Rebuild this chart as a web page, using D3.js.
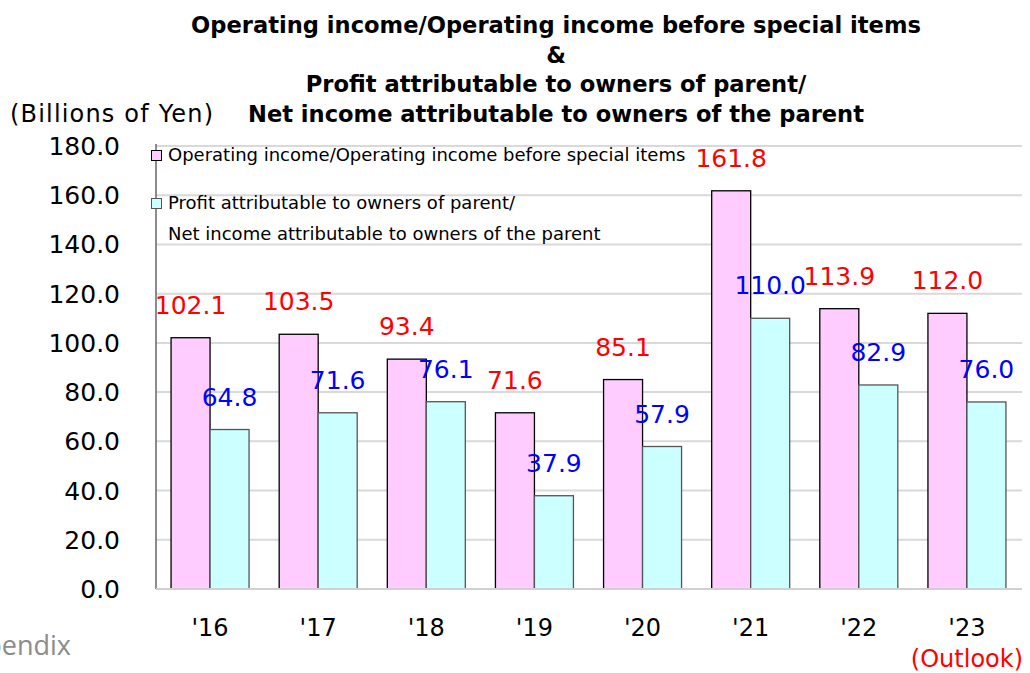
<!DOCTYPE html>
<meta charset="utf-8">
<style>
body { margin: 0; background: #fff; }
svg text { font-family: "DejaVu Sans", Verdana, sans-serif; }
.title { font-weight: bold; font-size: 22.6px; }
.grid line { stroke: #d9d9d9; stroke-width: 2; }
</style>
<script src="https://cdn.jsdelivr.net/npm/d3@7"></script>
<body>
<script>

var years = ["'16", "'17", "'18", "'19", "'20", "'21", "'22", "'23"];
var opIncome = [102.1, 103.5, 93.4, 71.6, 85.1, 161.8, 113.9, 112.0];
var netIncome = [64.8, 71.6, 76.1, 37.9, 57.9, 110.0, 82.9, 76.0];
var yTicks = [0, 20, 40, 60, 80, 100, 120, 140, 160, 180];
var seriesNames = ["Operating income/Operating income before special items",
                   "Profit attributable to owners of parent/",
                   "Net income attributable to owners of the parent"];

var W = 1030, H = 673;
var plotL = 156, plotR = 1021, plotT = 146, plotB = 589;

var svg = d3.select("body").append("svg")
    .attr("width", W)
    .attr("height", H);

var x = d3.scaleBand().domain(years).range([plotL, plotR]).paddingInner(0).paddingOuter(0);
var y = d3.scaleLinear().domain([0, 180]).range([plotB, plotT]);

// gridlines
svg.append("g").attr("class", "grid")
  .selectAll("line")
  .data(yTicks.slice(1))
  .enter().append("line")
    .attr("x1", plotL).attr("x2", plotR + 1)
    .attr("y1", function(d) { return y(d); })
    .attr("y2", function(d) { return y(d); });

// y axis labels
svg.append("g")
  .selectAll("text")
  .data(yTicks)
  .enter().append("text")
    .attr("x", 120)
    .attr("y", function(d) { return y(d); })
    .attr("dy", "0.36em")
    .attr("text-anchor", "end")
    .style("font-size", "25px")
    .text(function(d) { return d.toFixed(1); });

var bw = 39;
var groups = svg.append("g").selectAll("g")
  .data(years)
  .enter().append("g");

groups.append("rect")
    .attr("x", function(d) { return x(d) + x.bandwidth() / 2 - bw; })
    .attr("y", function(d, i) { return y(opIncome[i]); })
    .attr("width", bw)
    .attr("height", function(d, i) { return plotB - y(opIncome[i]); })
    .attr("fill", "#ffccff")
    .attr("stroke", "#000")
    .attr("stroke-width", 1.3);

groups.append("rect")
    .attr("x", function(d) { return x(d) + x.bandwidth() / 2; })
    .attr("y", function(d, i) { return y(netIncome[i]); })
    .attr("width", bw)
    .attr("height", function(d, i) { return plotB - y(netIncome[i]); })
    .attr("fill", "#ccffff")
    .attr("stroke", "#555")
    .attr("stroke-width", 1.3);

// axis lines
svg.append("line")
    .attr("x1", plotL).attr("x2", plotL)
    .attr("y1", plotT - 2).attr("y2", plotB)
    .attr("stroke", "#666").attr("stroke-width", 1.5);
svg.append("line")
    .attr("x1", plotL).attr("x2", plotR + 1)
    .attr("y1", plotB).attr("y2", plotB)
    .attr("stroke", "#d0d0d0").attr("stroke-width", 2);

// value labels
groups.append("text")
    .attr("x", function(d) { return x(d) + x.bandwidth() / 2 - bw / 2; })
    .attr("y", function(d, i) { return y(opIncome[i]) - 24; })
    .attr("text-anchor", "middle")
    .attr("fill", "#ff0000")
    .style("font-size", "25px")
    .text(function(d, i) { return opIncome[i].toFixed(1); });

groups.append("text")
    .attr("x", function(d) { return x(d) + x.bandwidth() / 2 + bw / 2; })
    .attr("y", function(d, i) { return y(netIncome[i]) - 24; })
    .attr("text-anchor", "middle")
    .attr("fill", "#0000ff")
    .style("font-size", "25px")
    .text(function(d, i) { return netIncome[i].toFixed(1); });

// x labels
groups.append("text")
    .attr("x", function(d) { return x(d) + x.bandwidth() / 2; })
    .attr("y", 636)
    .attr("text-anchor", "middle")
    .style("font-size", "24px")
    .text(function(d) { return d; });

svg.append("text")
    .attr("x", x(years[7]) + x.bandwidth() / 2)
    .attr("y", 667)
    .attr("text-anchor", "middle")
    .attr("fill", "#ff0000")
    .style("font-size", "24px")
    .text("(Outlook)");

// legend
var legend = [
  {name: seriesNames[0], fill: "#ffccff", stroke: "#000", y: 155},
  {name: seriesNames[1], fill: "#ccffff", stroke: "#555", y: 203}
];
legend.forEach(function(l) {
  svg.append("rect")
      .attr("x", plotL - 4.5).attr("y", l.y - 4.5)
      .attr("width", 10).attr("height", 10)
      .attr("fill", l.fill).attr("stroke", l.stroke);
  svg.append("text")
      .attr("x", 168).attr("y", l.y + 6)
      .style("font-size", "18px")
      .text(l.name);
});
svg.append("text")
    .attr("x", 168).attr("y", 240)
    .style("font-size", "18px")
    .text(seriesNames[2]);

// titles
var titleLines = ["Operating income/Operating income before special items", "&",
  "Profit attributable to owners of parent/", "Net income attributable to owners of the parent"];
svg.append("g").selectAll("text")
  .data(titleLines)
  .enter().append("text")
    .attr("class", "title")
    .attr("x", 556)
    .attr("y", function(d, i) { return 33 + i * 29.5; })
    .attr("text-anchor", "middle")
    .text(function(d) { return d; });

svg.append("text")
    .attr("x", 10).attr("y", 122)
    .style("font-size", "24px")
    .attr("textLength", 203)
    .text("(Billions of Yen)");

svg.append("text")
    .attr("x", 71).attr("y", 655)
    .attr("text-anchor", "end")
    .attr("fill", "#8c8c8c")
    .style("font-family", "'Open Sans', sans-serif")
    .style("font-size", "27px")
    .text("Appendix");

</script>
</body>
